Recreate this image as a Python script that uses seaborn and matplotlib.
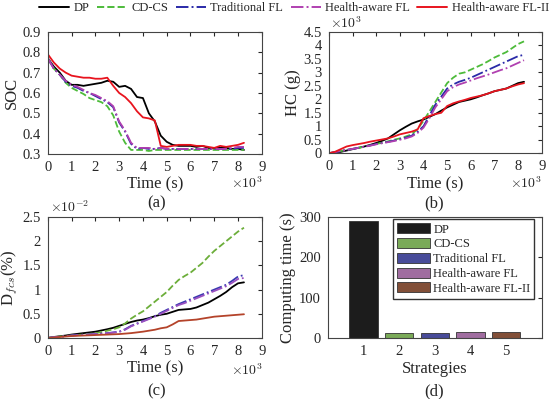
import numpy as np
import pandas as pd
import seaborn as sns
import matplotlib.pyplot as plt
from matplotlib.lines import Line2D

# time axis (s), every 250 s
time_s = [250 * i for i in range(34)]

names = ['DP', 'CD-CS', 'Traditional FL', 'Health-aware FL', 'Health-aware FL-II']

# (a) SOC
soc_dp = [0.77, 0.73, 0.70, 0.66, 0.64, 0.64, 0.635, 0.64, 0.645, 0.65, 0.66, 0.655, 0.63, 0.635, 0.62, 0.58, 0.575,
          0.50, 0.46, 0.39, 0.36, 0.345, 0.34, 0.34, 0.34, 0.335, 0.34, 0.33, 0.33, 0.33, 0.33, 0.325, 0.325, 0.32]
soc_cdcs = [0.77, 0.72, 0.69, 0.65, 0.625, 0.61, 0.595, 0.575, 0.565, 0.555, 0.535, 0.49, 0.41, 0.355, 0.32, 0.32,
            0.32, 0.315, 0.32, 0.32, 0.32, 0.32, 0.32, 0.32, 0.32, 0.32, 0.32, 0.32, 0.32, 0.32, 0.32, 0.32, 0.32, 0.32]
soc_tfl = [0.77, 0.72, 0.69, 0.655, 0.635, 0.625, 0.61, 0.60, 0.585, 0.57, 0.555, 0.53, 0.455, 0.41, 0.35, 0.325,
           0.33, 0.325, 0.325, 0.33, 0.325, 0.325, 0.325, 0.325, 0.325, 0.325, 0.325, 0.325, 0.325, 0.325, 0.325,
           0.325, 0.33, 0.33]
soc_hfl = [0.77, 0.72, 0.69, 0.66, 0.64, 0.63, 0.615, 0.60, 0.59, 0.575, 0.56, 0.535, 0.46, 0.415, 0.355, 0.33,
           0.33, 0.33, 0.325, 0.33, 0.325, 0.325, 0.325, 0.325, 0.325, 0.325, 0.325, 0.325, 0.325, 0.325, 0.325,
           0.33, 0.335, 0.335]
soc_hfl2 = [0.79, 0.75, 0.72, 0.70, 0.685, 0.68, 0.675, 0.675, 0.67, 0.67, 0.675, 0.635, 0.60, 0.58, 0.55, 0.51,
            0.48, 0.475, 0.465, 0.34, 0.335, 0.34, 0.345, 0.345, 0.345, 0.34, 0.34, 0.335, 0.33, 0.34, 0.335, 0.34,
            0.345, 0.355]

# (b) HC, x10^3 g
hc_dp = [0, 0.02, 0.05, 0.1, 0.15, 0.2, 0.25, 0.31, 0.38, 0.46, 0.55, 0.7, 0.85, 0.98, 1.1, 1.18, 1.25, 1.35, 1.45,
         1.58, 1.7, 1.8, 1.9, 1.95, 2.0, 2.07, 2.15, 2.22, 2.3, 2.35, 2.4, 2.5, 2.6, 2.65]
hc_cdcs = [0, 0.04, 0.08, 0.12, 0.16, 0.2, 0.24, 0.29, 0.34, 0.39, 0.44, 0.5, 0.55, 0.62, 0.7, 0.9, 1.2, 1.55, 1.9,
           2.25, 2.6, 2.8, 2.95, 3.0, 3.1, 3.2, 3.3, 3.42, 3.55, 3.65, 3.75, 3.9, 4.05, 4.15]
hc_tfl = [0, 0.04, 0.08, 0.12, 0.16, 0.2, 0.24, 0.29, 0.34, 0.38, 0.42, 0.47, 0.52, 0.58, 0.65, 0.8, 1.0, 1.4, 1.8,
          2.1, 2.4, 2.55, 2.65, 2.72, 2.8, 2.9, 3.0, 3.1, 3.2, 3.3, 3.4, 3.5, 3.6, 3.65]
hc_hfl = [0, 0.04, 0.08, 0.12, 0.16, 0.2, 0.24, 0.28, 0.33, 0.37, 0.41, 0.45, 0.5, 0.55, 0.62, 0.75, 0.95, 1.3, 1.7,
          2.0, 2.3, 2.45, 2.55, 2.62, 2.7, 2.78, 2.85, 2.92, 3.0, 3.08, 3.15, 3.25, 3.35, 3.45]
hc_hfl2 = [0, 0.05, 0.15, 0.25, 0.3, 0.34, 0.38, 0.43, 0.47, 0.51, 0.55, 0.62, 0.7, 0.75, 0.8, 0.88, 1.3, 1.38, 1.45,
           1.5, 1.75, 1.85, 1.92, 1.98, 2.05, 2.1, 2.15, 2.22, 2.3, 2.35, 2.4, 2.48, 2.55, 2.6]

# (c) D_fcs, x10^-2 %
d_dp = [0, 0.02, 0.035, 0.05, 0.07, 0.085, 0.1, 0.115, 0.13, 0.155, 0.18, 0.21, 0.25, 0.29, 0.33, 0.36, 0.38, 0.41,
        0.45, 0.48, 0.5, 0.54, 0.58, 0.59, 0.6, 0.63, 0.68, 0.73, 0.8, 0.87, 0.95, 1.05, 1.13, 1.15]
d_cdcs = [0, 0.015, 0.03, 0.04, 0.05, 0.06, 0.07, 0.085, 0.1, 0.12, 0.15, 0.18, 0.22, 0.3, 0.4, 0.48, 0.55, 0.65,
          0.75, 0.85, 0.95, 1.08, 1.2, 1.28, 1.35, 1.45, 1.55, 1.68, 1.8, 1.9, 2.0, 2.1, 2.2, 2.28]
d_tfl = [0, 0.015, 0.025, 0.035, 0.05, 0.058, 0.065, 0.072, 0.08, 0.09, 0.1, 0.115, 0.13, 0.18, 0.25, 0.3, 0.35,
         0.4, 0.45, 0.52, 0.58, 0.64, 0.7, 0.75, 0.8, 0.85, 0.9, 0.95, 1.0, 1.05, 1.1, 1.18, 1.27, 1.3]
d_hfl = [0, 0.015, 0.025, 0.035, 0.05, 0.058, 0.065, 0.072, 0.08, 0.088, 0.097, 0.11, 0.125, 0.17, 0.24, 0.29, 0.34,
         0.39, 0.44, 0.5, 0.56, 0.62, 0.68, 0.72, 0.77, 0.82, 0.87, 0.92, 0.97, 1.02, 1.07, 1.14, 1.22, 1.24]
d_hfl2 = [0, 0.01, 0.02, 0.03, 0.04, 0.045, 0.05, 0.055, 0.06, 0.065, 0.07, 0.075, 0.08, 0.09, 0.1, 0.115, 0.13,
          0.15, 0.17, 0.2, 0.22, 0.28, 0.35, 0.36, 0.37, 0.38, 0.4, 0.42, 0.44, 0.45, 0.46, 0.47, 0.48, 0.49]

# (d) computing time
strategies = ['1', '2', '3', '4', '5']
comp_time = [290, 12, 13, 14, 14]

line_colors = ['black', '#4dbb3a', '#2a2aa8', '#b040b0', '#e8141e']
line_styles = ['-', '--', '-.', '-.', '-']
bar_colors = ['#1c1c1c', '#78b84a', '#3b3ea6', '#a865a8', '#8e4a2c']

sns.set_style('white')
plt.rcParams['font.family'] = ['Liberation Serif', 'DejaVu Serif']
plt.rcParams['mathtext.fontset'] = 'cm'

fig = plt.figure(figsize=(5.5, 3.99), dpi=100)
ax_a = fig.add_axes([0.087, 0.614, 0.389, 0.306])
ax_b = fig.add_axes([0.598, 0.616, 0.387, 0.304])
ax_c = fig.add_axes([0.087, 0.153, 0.389, 0.303])
ax_d = fig.add_axes([0.596, 0.153, 0.389, 0.303])

t_k = np.array(time_s) / 1000.0


def draw_lines(ax, series, colors, lw=1.3):
    for y, c, ls, n in zip(series, colors, line_styles, names):
        sns.lineplot(x=t_k, y=y, ax=ax, color=c, linestyle=ls, linewidth=lw, legend=False)


def style_axes(ax):
    ax.tick_params(direction='in', top=True, right=True, length=3, labelsize=10.5, pad=5)
    for s in ax.spines.values():
        s.set_color('#444444')
        s.set_linewidth(0.8)


draw_lines(ax_a, [soc_dp, soc_cdcs, soc_tfl, soc_hfl, soc_hfl2], line_colors)
ax_a.set_xlim(0, 9)
ax_a.set_ylim(0.3, 0.9)
ax_a.set_xticks(range(10))
ax_a.set_yticks([0.3, 0.4, 0.5, 0.6, 0.7, 0.8, 0.9])
ax_a.set_ylabel('SOC', fontsize=12, labelpad=2)
ax_a.set_xlabel('Time (s)', fontsize=12, labelpad=2)
style_axes(ax_a)

draw_lines(ax_b, [hc_dp, hc_cdcs, hc_tfl, hc_hfl, hc_hfl2], line_colors)
ax_b.set_xlim(0, 9)
ax_b.set_ylim(0, 4.5)
ax_b.set_xticks(range(10))
ax_b.set_yticks([0, 0.5, 1, 1.5, 2, 2.5, 3, 3.5, 4, 4.5])
ax_b.set_yticklabels(['0', '0.5', '1', '1.5', '2', '2.5', '3', '3.5', '4', '4.5'])
ax_b.set_ylabel('HC (g)', fontsize=12, labelpad=2)
ax_b.set_xlabel('Time (s)', fontsize=12, labelpad=2)
style_axes(ax_b)

c_colors = ['black', '#6cae3a', '#3a3ab0', '#9a50c0', '#b4432a']
draw_lines(ax_c, [d_dp, d_cdcs, d_tfl, d_hfl, d_hfl2], c_colors)
ax_c.set_xlim(0, 9)
ax_c.set_ylim(0, 2.5)
ax_c.set_xticks(range(10))
ax_c.set_yticks([0, 0.5, 1, 1.5, 2, 2.5])
ax_c.set_yticklabels(['0', '0.5', '1', '1.5', '2', '2.5'])
ax_c.set_ylabel(r'D$_{fcs}$(%)', fontsize=12, labelpad=2)
ax_c.set_xlabel('Time (s)', fontsize=12, labelpad=2)
style_axes(ax_c)

df_d = pd.DataFrame({'strategy': strategies, 'time': comp_time, 'name': names})
sns.barplot(data=df_d, x='strategy', y='time', hue='name', palette=bar_colors, dodge=False,
            width=0.8, edgecolor='#333333', linewidth=0.6, ax=ax_d, legend=True)
ax_d.set_xlim(-1, 5)
ax_d.set_ylim(0, 300)
ax_d.set_yticks([0, 100, 200, 300])
ax_d.set_ylabel('Computing time (s)', fontsize=12, labelpad=2)
ax_d.set_xlabel('Strategies', fontsize=12, labelpad=2)
style_axes(ax_d)
ax_d.tick_params(axis='x', length=0)
ax_d.legend(loc='upper right', bbox_to_anchor=(0.965, 0.98), fontsize=9, frameon=True, fancybox=False,
            edgecolor='black', handlelength=2.6, handleheight=0.85, borderpad=0.3, labelspacing=0.2,
            handletextpad=0.3, borderaxespad=0.0)

# exponent labels
fig.text(0.478, 0.542, r'$\times10^3$', ha='right', va='center', fontsize=10)
fig.text(0.985, 0.542, r'$\times10^3$', ha='right', va='center', fontsize=10)
fig.text(0.478, 0.073, r'$\times10^3$', ha='right', va='center', fontsize=10)
fig.text(0.600, 0.942, r'$\times10^3$', ha='left', va='center', fontsize=10)
fig.text(0.090, 0.481, r'$\times10^{-2}$', ha='left', va='center', fontsize=10)

# panel letters
fig.text(0.285, 0.490, '(a)', ha='center', va='center', fontsize=12)
fig.text(0.79, 0.490, '(b)', ha='center', va='center', fontsize=12)
fig.text(0.285, 0.020, '(c)', ha='center', va='center', fontsize=12)
fig.text(0.79, 0.020, '(d)', ha='center', va='center', fontsize=12)

handles = [Line2D([], [], color=c, linestyle=ls, linewidth=1.4) for c, ls in zip(line_colors, line_styles)]
fig.legend(handles, names, loc='upper center', bbox_to_anchor=(0.535, 1.01), ncol=5, frameon=False,
           fontsize=9, handlelength=2.4, columnspacing=0.6, handletextpad=0.35, borderaxespad=0.1)

fig.savefig('out.png', dpi=100)
